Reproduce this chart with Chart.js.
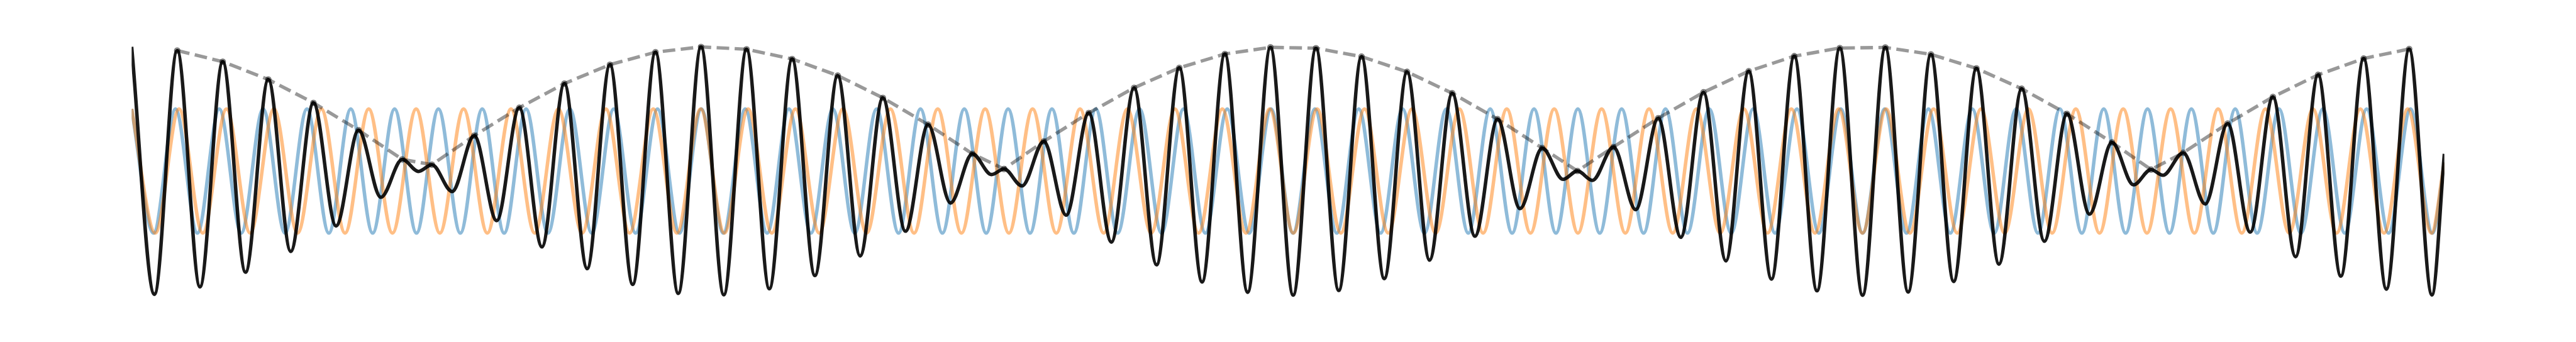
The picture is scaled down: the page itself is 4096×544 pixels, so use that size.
<!DOCTYPE html>
<html>
<head>
<meta charset="utf-8">
<script src="https://cdn.jsdelivr.net/npm/chart.js@4.4.1/dist/chart.umd.min.js"></script>
<style>
  html, body { margin: 0; padding: 0; background: #fff; }
  #beatChart { display: block; }
</style>
</head>
<body>
<canvas id="beatChart" width="4096" height="544"></canvas>
<script>
// time runs 0..1 across the plot, values are in units of one tone's amplitude

// tone 1 (blue): times of its crests and troughs
const blueHighT = [0, 0.01895, 0.03790, 0.05685, 0.07580, 0.09475, 0.11370, 0.13265, 0.15160, 0.17054,
  0.18949, 0.20844, 0.22739, 0.24634, 0.26529, 0.28424, 0.30319, 0.32214, 0.34109, 0.36004,
  0.37899, 0.39794, 0.41689, 0.43584, 0.45479, 0.47374, 0.49268, 0.51163, 0.53058, 0.54953,
  0.56848, 0.58743, 0.60638, 0.62533, 0.64428, 0.66323, 0.68218, 0.70113, 0.72008, 0.73903,
  0.75798, 0.77693, 0.79587, 0.81482, 0.83377, 0.85272, 0.87167, 0.89062, 0.90957, 0.92852,
  0.94747, 0.96642, 0.98537];
const blueLowT = [0.00947, 0.02842, 0.04737, 0.06632, 0.08527, 0.10422, 0.12317, 0.14212, 0.16107, 0.18002,
  0.19897, 0.21792, 0.23687, 0.25582, 0.27477, 0.29372, 0.31267, 0.33161, 0.35056, 0.36951,
  0.38846, 0.40741, 0.42636, 0.44531, 0.46426, 0.48321, 0.50216, 0.52111, 0.54006, 0.55901,
  0.57796, 0.59691, 0.61586, 0.63480, 0.65375, 0.67270, 0.69165, 0.71060, 0.72955, 0.74850,
  0.76745, 0.78640, 0.80535, 0.82430, 0.84325, 0.86220, 0.88115, 0.90010, 0.91905, 0.93800,
  0.95694, 0.97589, 0.99484];
const blueEnd = [1, 0.137];

// tone 2 (orange)
const orangeHighT = [0, 0.02050, 0.04101, 0.06151, 0.08201, 0.10252, 0.12302, 0.14353, 0.16403, 0.18453,
  0.20504, 0.22554, 0.24604, 0.26655, 0.28705, 0.30755, 0.32806, 0.34856, 0.36906, 0.38957,
  0.41007, 0.43058, 0.45108, 0.47158, 0.49209, 0.51259, 0.53309, 0.55360, 0.57410, 0.59460,
  0.61511, 0.63561, 0.65612, 0.67662, 0.69712, 0.71763, 0.73813, 0.75863, 0.77914, 0.79964,
  0.82014, 0.84065, 0.86115, 0.88165, 0.90216, 0.92266, 0.94317, 0.96367, 0.98417];
const orangeLowT = [0.01025, 0.03076, 0.05126, 0.07176, 0.09227, 0.11277, 0.13327, 0.15378, 0.17428, 0.19478,
  0.21529, 0.23579, 0.25630, 0.27680, 0.29730, 0.31781, 0.33831, 0.35881, 0.37932, 0.39982,
  0.42032, 0.44083, 0.46133, 0.48183, 0.50234, 0.52284, 0.54335, 0.56385, 0.58435, 0.60486,
  0.62536, 0.64586, 0.66637, 0.68687, 0.70737, 0.72788, 0.74838, 0.76889, 0.78939, 0.80989,
  0.83040, 0.85090, 0.87140, 0.89191, 0.91241, 0.93291, 0.95342, 0.97392, 0.99442];
const orangeEnd = [1, 0.137];

// sum of both tones (black): local maxima and minima
const sumPeakT = [0.01970, 0.03939, 0.05909, 0.07860, 0.09812, 0.11701, 0.12983, 0.14813, 0.16762, 0.18711,
  0.20681, 0.22650, 0.24620, 0.26589, 0.28559, 0.30528, 0.32481, 0.34437, 0.36354, 0.37721,
  0.39441, 0.41385, 0.43345, 0.45300, 0.47270, 0.49240, 0.51209, 0.53179, 0.55148, 0.57102,
  0.59061, 0.60994, 0.62516, 0.64073, 0.66008, 0.67965, 0.69920, 0.71890, 0.73859, 0.75829,
  0.77798, 0.79768, 0.81724, 0.83684, 0.85626, 0.87318, 0.88710, 0.90630, 0.92587, 0.94540,
  0.96509, 0.98479];
const sumPeakV = [1.939, 1.760, 1.474, 1.097, 0.658, 0.187, 0.102, 0.569, 1.019, 1.408,
  1.712, 1.913, 1.998, 1.960, 1.803, 1.537, 1.178, 0.747, 0.277, 0.032,
  0.477, 0.935, 1.339, 1.661, 1.884, 1.991, 1.977, 1.842, 1.596, 1.252,
  0.835, 0.369, 0.001, 0.386, 0.850, 1.267, 1.607, 1.849, 1.980, 1.989,
  1.878, 1.652, 1.325, 0.920, 0.460, 0.023, 0.294, 0.764, 1.193, 1.548,
  1.811, 1.964];
const sumTroughT = [0.00985, 0.02954, 0.04924, 0.06879, 0.08839, 0.10778, 0.12405, 0.13858, 0.15785, 0.17742,
  0.19696, 0.21665, 0.23635, 0.25605, 0.27574, 0.29544, 0.31500, 0.33460, 0.35407, 0.37179,
  0.38501, 0.40409, 0.42364, 0.44316, 0.46285, 0.48255, 0.50224, 0.52194, 0.54163, 0.56121,
  0.58083, 0.60034, 0.61892, 0.63164, 0.65034, 0.66985, 0.68935, 0.70905, 0.72874, 0.74844,
  0.76814, 0.78783, 0.80742, 0.82705, 0.84658, 0.86561, 0.87830, 0.89660, 0.91607, 0.93568,
  0.95525, 0.97494, 0.99464];
const sumTroughV = [-1.985, -1.864, -1.629, -1.295, -0.885, -0.423, -0.007, -0.331, -0.799, -1.223,
  -1.572, -1.827, -1.971, -1.994, -1.896, -1.683, -1.368, -0.970, -0.515, -0.057,
  -0.240, -0.711, -1.145, -1.511, -1.786, -1.952, -1.999, -1.924, -1.732, -1.435,
  -1.051, -0.605, -0.135, -0.151, -0.622, -1.067, -1.448, -1.741, -1.929, -2.000,
  -1.948, -1.778, -1.499, -1.132, -0.695, -0.223, -0.069, -0.531, -0.985, -1.381,
  -1.692, -1.902, -1.995];
const sumStart = [0, 2.0];
const sumEnd = [1, 0.275];

const byTime = (a, b) => a.x - b.x;

function tonePoints(highs, lows, end) {
  const pts = highs.map(t => ({ x: t, y: 1 }))
    .concat(lows.map(t => ({ x: t, y: -1 })));
  pts.push({ x: end[0], y: end[1] });
  return pts.sort(byTime);
}

const peakPoints = sumPeakT.map((t, i) => ({ x: t, y: sumPeakV[i] }));
const sumPoints = peakPoints
  .concat(sumTroughT.map((t, i) => ({ x: t, y: sumTroughV[i] })))
  .concat([{ x: sumStart[0], y: sumStart[1] }, { x: sumEnd[0], y: sumEnd[1] }])
  .sort(byTime);

const k = 4096 / 4710; // drawn at 0.869 of the reference
const lw = 6.4 * k;

const curve = {
  fill: false,
  pointRadius: 0,
  borderWidth: lw,
  cubicInterpolationMode: 'monotone',
  borderJoinStyle: 'round'
};

new Chart(document.getElementById('beatChart'), {
  type: 'line',
  data: {
    datasets: [
      { ...curve, data: tonePoints(blueHighT, blueLowT, blueEnd), borderColor: 'rgba(31,119,180,0.5)', order: 4 },
      { ...curve, data: tonePoints(orangeHighT, orangeLowT, orangeEnd), borderColor: 'rgba(255,127,14,0.5)', order: 3 },
      { ...curve, data: sumPoints, borderColor: 'rgba(0,0,0,0.9)', order: 2 },
      {
        data: peakPoints,
        order: 1,
        fill: false,
        tension: 0,
        borderColor: 'rgba(0,0,0,0.4)',
        borderWidth: 6.2 * k,
        borderDash: [23 * k, 10 * k],
        borderJoinStyle: 'round',
        pointRadius: 5.4 * k,
        pointBorderWidth: 1.2 * k,
        pointBackgroundColor: 'rgba(0,0,0,0.4)',
        pointBorderColor: 'rgba(0,0,0,0.4)'
      }
    ]
  },
  options: {
    responsive: false,
    animation: false,
    devicePixelRatio: 1,
    events: [],
    layout: { padding: { left: 240.7 * k, right: (4710 - 4469.3) * k, top: 25, bottom: 25 } },
    scales: {
      x: { type: 'linear', min: 0, max: 1, display: false },
      y: { min: -2.5, max: 2.5, display: false }
    },
    plugins: { legend: { display: false }, tooltip: { enabled: false } }
  }
});
</script>
</body>
</html>
